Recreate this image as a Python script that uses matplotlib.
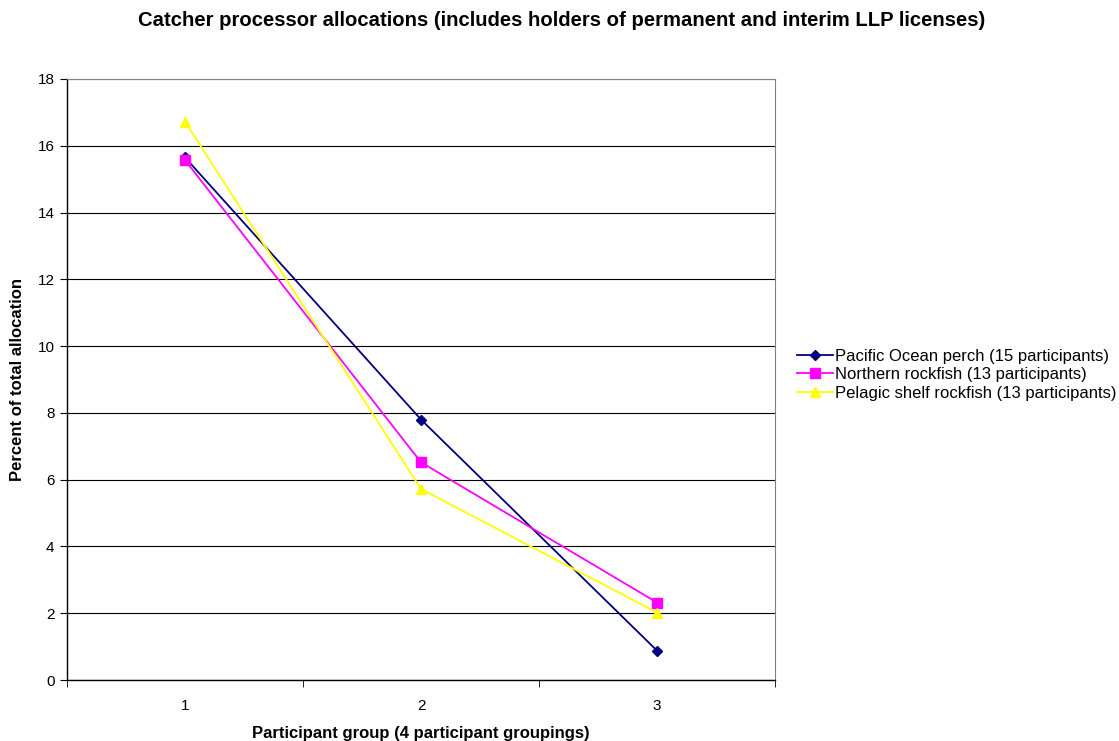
import matplotlib.pyplot as plt

plt.rcParams['font.family'] = ['Liberation Sans', 'DejaVu Sans']

# data
groups = ['1', '2', '3']
pacific_perch = [15.65, 7.8, 0.88]
northern_rockfish = [15.57, 6.52, 2.32]
pelagic_shelf = [16.72, 5.72, 2.02]
series_labels = ['Pacific Ocean perch (15 participants)',
                 'Northern rockfish (13 participants)',
                 'Pelagic shelf rockfish (13 participants)']

fig = plt.figure(figsize=(11.19, 7.41), dpi=100)
ax = fig.add_axes([0.0599, 0.0823, 0.6327, 0.8111])

x = list(range(1, len(groups) + 1))
ax.plot(x, pacific_perch, color='#000080', marker='D', markersize=5, lw=1.3,
        label=series_labels[0])
ax.plot(x, northern_rockfish, color='#FF00FF', marker='s', markersize=7, lw=1.3,
        label=series_labels[1])
ax.plot(x, pelagic_shelf, color='#FFFF00', marker='^', markersize=7, lw=1.3,
        label=series_labels[2])

ax.set_xlim(0.5, len(groups) + 0.5)
ax.set_ylim(0, 18)
ax.set_yticks(range(0, 19, 2))
ax.yaxis.grid(True, color='black', lw=0.8)
ax.set_axisbelow(True)

# category labels in the middle, tick marks at the boundaries
ax.set_xticks(x)
ax.set_xticklabels(groups)
ax.tick_params(axis='x', length=0, pad=14, labelsize=11)
ax.set_xticks([i + 0.5 for i in range(len(groups) + 1)], minor=True)
ax.tick_params(axis='x', which='minor', length=5, direction='out', color='black')
ax.tick_params(axis='y', length=5, direction='out', labelsize=11, pad=4)

for side in ['top', 'right']:
    ax.spines[side].set_color('#808080')
for side in ['left', 'bottom']:
    ax.spines[side].set_color('black')
    ax.spines[side].set_linewidth(1.0)

ax.set_xlabel('Participant group (4 participant groupings)', fontsize=12,
              fontweight='bold', labelpad=9)
ax.set_ylabel('Percent of total allocation', fontsize=12, fontweight='bold',
              labelpad=9)

fig.suptitle('Catcher processor allocations (includes holders of permanent and interim LLP licenses)',
             fontsize=14.6, fontweight='bold', x=0.502, y=0.985)

ax.legend(loc='center left', bbox_to_anchor=(1.021, 0.508), frameon=False,
          fontsize=12, handlelength=2.2, handletextpad=0.1, labelspacing=0.2,
          borderaxespad=0)

fig.savefig('out.png', dpi=100)
